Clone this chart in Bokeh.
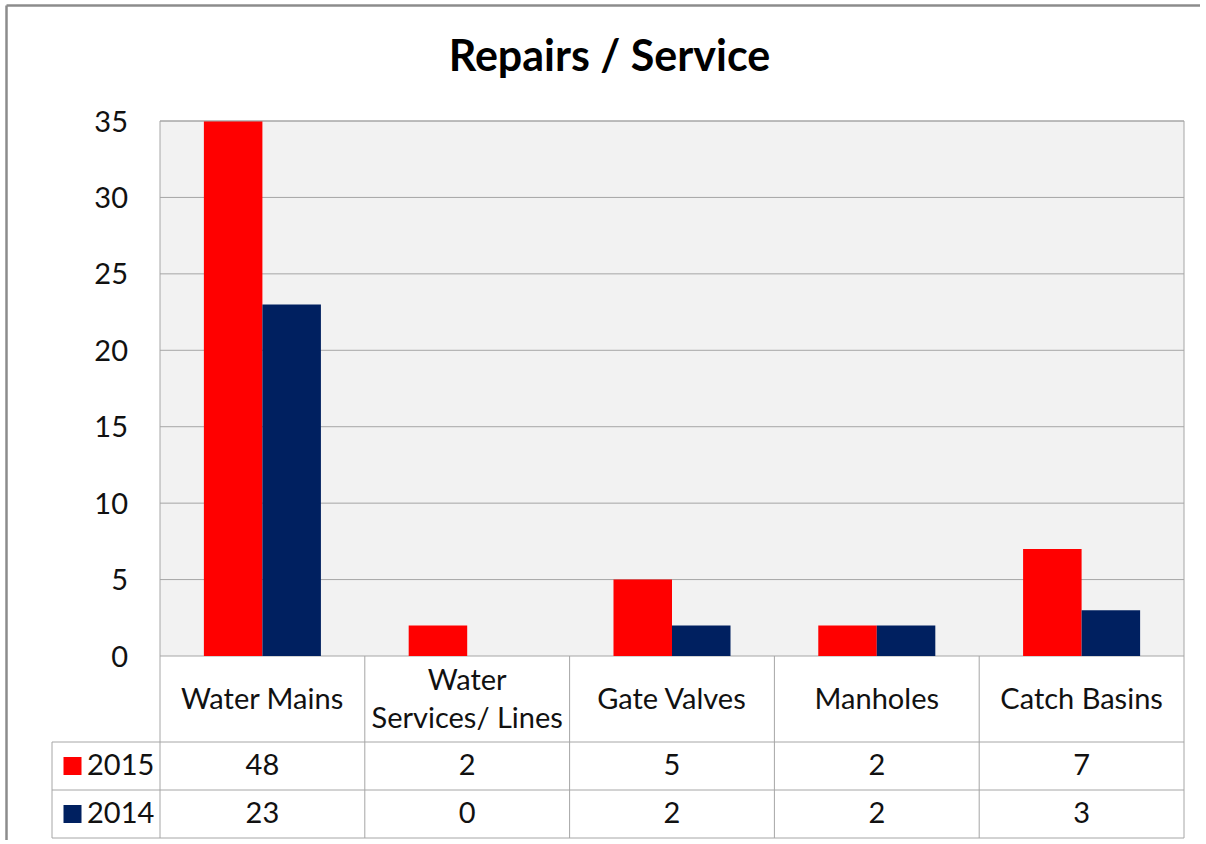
from bokeh.plotting import figure
from bokeh.models import ColumnDataSource, Range1d, FixedTicker, LinearAxis
from bokeh.transform import dodge
from bokeh.embed import file_html
from bokeh.resources import INLINE
from bokeh.core.properties import value

# ---------------- data ----------------
categories = ["Water Mains", "Water Services/ Lines", "Gate Valves", "Manholes", "Catch Basins"]
header_labels = ["Water Mains", "Water\nServices/ Lines", "Gate Valves", "Manholes", "Catch Basins"]
series_names = ["2015", "2014"]
values_2015 = [48, 2, 5, 2, 7]
values_2014 = [23, 0, 2, 2, 3]
y_ticks = [0, 5, 10, 15, 20, 25, 30, 35]
title_text = "Repairs / Service"

# ---------------- style / layout constants ----------------
RED = "#ff0000"
NAVY = "#002060"
GRID = "#a6a6a6"
BORDER = "#8c8c8c"
FONT = "Lato"
TXT = "#111111"
FS = "29px"

W, H = 1200, 840
Y_MAX = y_ticks[-1]
X0_PX, CAT_PX = 159.5, 204.8            # left edge of plot area, width of a category
Y0_PX, Y35_PX = 655.5, 120.5             # pixel rows of value 0 and value 35
PXU = (Y0_PX - Y35_PX) / Y_MAX


def px2x(px):
    return (px - X0_PX) / CAT_PX


def py2y(py):
    return (Y0_PX - py) / PXU


ncat = len(categories)
LEFT = px2x(51.5)
ROW_LINES = [py2y(741.5), py2y(789.5), py2y(837.5)]

p = figure(width=W, height=H,
           x_range=Range1d(px2x(0), px2x(W)),
           y_range=Range1d(py2y(H), py2y(0)),
           output_backend="svg", toolbar_location=None, tools="",
           x_axis_location=None, y_axis_location=None,
           min_border_left=0, min_border_right=0,
           min_border_top=0, min_border_bottom=0)
p.background_fill_color = "white"
p.border_fill_color = "white"
p.outline_line_color = None
p.grid.visible = False

# outer chart border (top and left edges visible)
p.segment(x0=[px2x(6), px2x(6)], x1=[px2x(6), px2x(W)],
          y0=[py2y(5), py2y(5)], y1=[py2y(H), py2y(5)],
          line_color=BORDER, line_width=2.5)

# plot area
p.quad(left=[0], right=[ncat], bottom=[0], top=[Y_MAX],
       fill_color="#f2f2f2", line_color=None)
p.segment(x0=[0] * len(y_ticks), x1=[ncat] * len(y_ticks), y0=y_ticks, y1=y_ticks,
          line_color=GRID, line_width=1)

# bars (clipped at the axis maximum, as in the original)
idx = [i + 0.5 for i in range(ncat)]
src = ColumnDataSource(dict(
    x=idx,
    v2015=[min(v, Y_MAX) for v in values_2015],
    v2014=[min(v, Y_MAX) for v in values_2014]))
bw = 1 / 3.5
p.vbar(x=dodge("x", -bw / 2), top="v2015", width=bw, source=src,
       fill_color=RED, line_color=None)
p.vbar(x=dodge("x", bw / 2), top="v2014", width=bw, source=src,
       fill_color=NAVY, line_color=None)

# y axis inside the frame at the plot area's left edge
yax = LinearAxis(fixed_location=0, ticker=FixedTicker(ticks=y_ticks))
yax.axis_line_color = None
yax.major_tick_line_color = None
yax.minor_tick_line_color = None
yax.major_label_standoff = 26
yax.major_label_text_font = FONT
yax.major_label_text_font_size = FS
yax.major_label_text_color = TXT
p.add_layout(yax, "left")

# data table lines
vx = list(range(ncat + 1))
p.segment(x0=vx, x1=vx, y0=[ROW_LINES[2]] * len(vx),
          y1=[Y_MAX] + [0] * (ncat - 1) + [Y_MAX],
          line_color=GRID, line_width=1)
p.segment(x0=[LEFT], x1=[LEFT], y0=[ROW_LINES[0]], y1=[ROW_LINES[2]],
          line_color=GRID, line_width=1)
p.segment(x0=[0] + [LEFT] * 3, x1=[ncat] * 4, y0=[Y_MAX] + ROW_LINES, y1=[Y_MAX] + ROW_LINES,
          line_color=GRID, line_width=1)

common = dict(text_font=value(FONT), text_font_size=value(FS),
              text_color=TXT, text_baseline="middle")
row15 = (ROW_LINES[0] + ROW_LINES[1]) / 2
row14 = (ROW_LINES[1] + ROW_LINES[2]) / 2
tsrc = ColumnDataSource(dict(
    x=idx, head=header_labels,
    s15=[str(v) for v in values_2015], s14=[str(v) for v in values_2014]))
p.text(x="x", y=py2y(697), text="head", source=tsrc, text_align="center",
       text_line_height=1.08, **common)
p.text(x="x", y=row15 + 1.5 / PXU, text="s15", source=tsrc, text_align="center", **common)
p.text(x="x", y=row14 + 1.5 / PXU, text="s14", source=tsrc, text_align="center", **common)

# series labels with colour keys
p.rect(x=[px2x(72)] * 2, y=[row15, row14], width=18, height=18,
       width_units="screen", height_units="screen",
       fill_color=[RED, NAVY], line_color=None)
p.text(x=[px2x(86.5)] * 2, y=[row15 + 1.5 / PXU, row14 + 1.5 / PXU], text=series_names,
       text_align="left", **common)

# title
p.text(x=[px2x(609)], y=[py2y(54)], text=[title_text], text_align="center",
       text_baseline="middle", text_font=value(FONT), text_font_style="bold",
       text_font_size=value("43px"), text_color="#000000")

open("out.html", "w").write(file_html(p, INLINE))
